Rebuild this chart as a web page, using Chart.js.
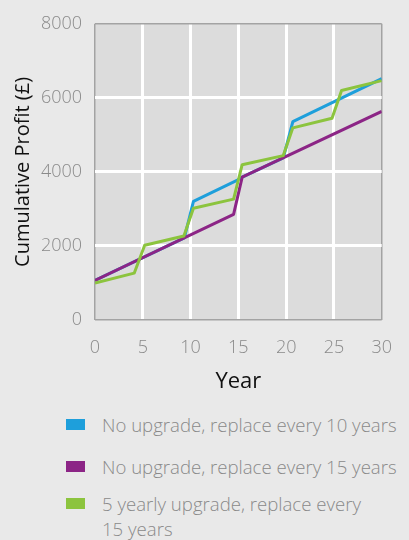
<!DOCTYPE html>
<html>
<head>
<meta charset="utf-8">
<title>Cumulative Profit</title>
<script src="https://cdn.jsdelivr.net/npm/chart.js@4.4.0/dist/chart.umd.min.js"></script>
<style>
  html, body { margin: 0; padding: 0; background: #e9e9e9; }
  #wrap { position: relative; width: 409px; height: 540px; overflow: hidden; font-family: "Open Sans", sans-serif; }
  #chart { position: absolute; left: 0; top: 0; }
  #legend { position: absolute; left: 66px; top: 412px; width: 343px; color: #8a8a8a; font-size: 18.6px; font-weight: 300; line-height: 25px; white-space: nowrap; }
  .item { display: flex; align-items: flex-start; }
  .item + .item { margin-top: 17px; }
  .item:last-child { margin-top: 12px; }
  .swatch { flex: none; width: 19px; height: 11px; margin-top: 7px; margin-right: 17px; }
</style>
</head>
<body>
<div id="wrap">
  <canvas id="chart" width="409" height="400"></canvas>
  <div id="legend"></div>
</div>
<script>
// Series: year -> cumulative profit (£)
const years10 = [0, 9.35, 10.3, 14.9, 15.4, 19.7, 20.7, 30];
const profit10 = [1070, 2220, 3205, 3780, 3860, 4380, 5360, 6517];

const years15 = [0, 14.5, 15.4, 30];
const profit15 = [1070, 2853, 3859, 5635];

const yearsUpgrade = [0, 4.1, 5.2, 9.3, 10.3, 14.5, 15.4, 19.7, 20.7, 24.8, 25.8, 30];
const profitUpgrade = [1000, 1265, 2020, 2270, 3020, 3265, 4195, 4440, 5190, 5450, 6200, 6465];

const xTicks = [0, 5, 10, 15, 20, 25, 30];
const yTicks = [0, 2000, 4000, 6000, 8000];

const seriesLabels = [
    'No upgrade, replace every 10 years',
    'No upgrade, replace every 15 years',
    '5 yearly upgrade, replace every\n15 years'
];
const seriesColors = ['#1e9fdb', '#8c2586', '#8cc43e'];

const toPoints = (xs, ys) => xs.map((x, i) => ({ x: x, y: ys[i] }));

const edgeGray = '#a3a3a3';

// Plot area fill behind the grid
const plotBackground = {
    id: 'plotBackground',
    beforeDraw(chart) {
        const { ctx, chartArea } = chart;
        ctx.save();
        ctx.fillStyle = '#dcdcdc';
        ctx.fillRect(chartArea.left, chartArea.top, chartArea.right - chartArea.left, chartArea.bottom - chartArea.top);
        ctx.restore();
    }
};

const gridColor = (first, last) => (ctx) => {
    const v = ctx.tick ? ctx.tick.value : null;
    return (v === first || v === last) ? edgeGray : '#ffffff';
};
const gridWidth = (first, last) => (ctx) => {
    const v = ctx.tick ? ctx.tick.value : null;
    return (v === first || v === last) ? 1.5 : 3;
};

const tickFont = { family: 'Open Sans', size: 18, weight: 300 };

const chart = new Chart(document.getElementById('chart'), {
    type: 'line',
    data: {
        datasets: [
            { label: seriesLabels[0], data: toPoints(years10, profit10), borderColor: seriesColors[0], order: 2 },
            { label: seriesLabels[1], data: toPoints(years15, profit15), borderColor: seriesColors[1], order: 1 },
            { label: seriesLabels[2], data: toPoints(yearsUpgrade, profitUpgrade), borderColor: seriesColors[2], order: 0 }
        ]
    },
    options: {
        responsive: false,
        animation: false,
        events: [],
        layout: { padding: { top: 18, right: 11, bottom: 0, left: 0 } },
        elements: {
            line: { borderWidth: 3, tension: 0, borderJoinStyle: 'round', fill: false },
            point: { radius: 0 }
        },
        plugins: {
            legend: { display: false },
            tooltip: { enabled: false }
        },
        scales: {
            x: {
                type: 'linear',
                min: xTicks[0],
                max: xTicks[xTicks.length - 1],
                afterBuildTicks(scale) { scale.ticks = xTicks.map(v => ({ value: v })); },
                afterFit(scale) { scale.height = 80; },
                ticks: { color: '#8a8a8a', font: tickFont, padding: 17, maxRotation: 0, callback: v => String(v) },
                grid: { drawTicks: false, color: gridColor(0, 30), lineWidth: gridWidth(0, 30) },
                border: { display: false },
                title: { display: true, text: 'Year', color: '#111111', font: { family: 'Open Sans', size: 22 }, padding: { top: 0, bottom: 5 } }
            },
            y: {
                min: yTicks[0],
                max: yTicks[yTicks.length - 1],
                afterBuildTicks(scale) { scale.ticks = yTicks.map(v => ({ value: v })); },
                afterFit(scale) { scale.width = 95; },
                ticks: { color: '#8a8a8a', font: tickFont, padding: 13, callback: v => String(v) },
                grid: { drawTicks: false, color: gridColor(0, 8000), lineWidth: gridWidth(0, 8000) },
                border: { display: false },
                title: { display: true, text: 'Cumulative Profit (£)', color: '#111111', font: { family: 'Open Sans', size: 20 }, padding: { top: 11, bottom: 0 } }
            }
        }
    },
    plugins: [plotBackground]
});

// Legend below the chart
const legend = document.getElementById('legend');
chart.data.datasets.forEach(ds => {
    const item = document.createElement('div');
    item.className = 'item';
    const swatch = document.createElement('span');
    swatch.className = 'swatch';
    swatch.style.background = ds.borderColor;
    const text = document.createElement('span');
    text.innerHTML = ds.label.replace('\n', '<br>');
    item.appendChild(swatch);
    item.appendChild(text);
    legend.appendChild(item);
});
</script>
</body>
</html>
